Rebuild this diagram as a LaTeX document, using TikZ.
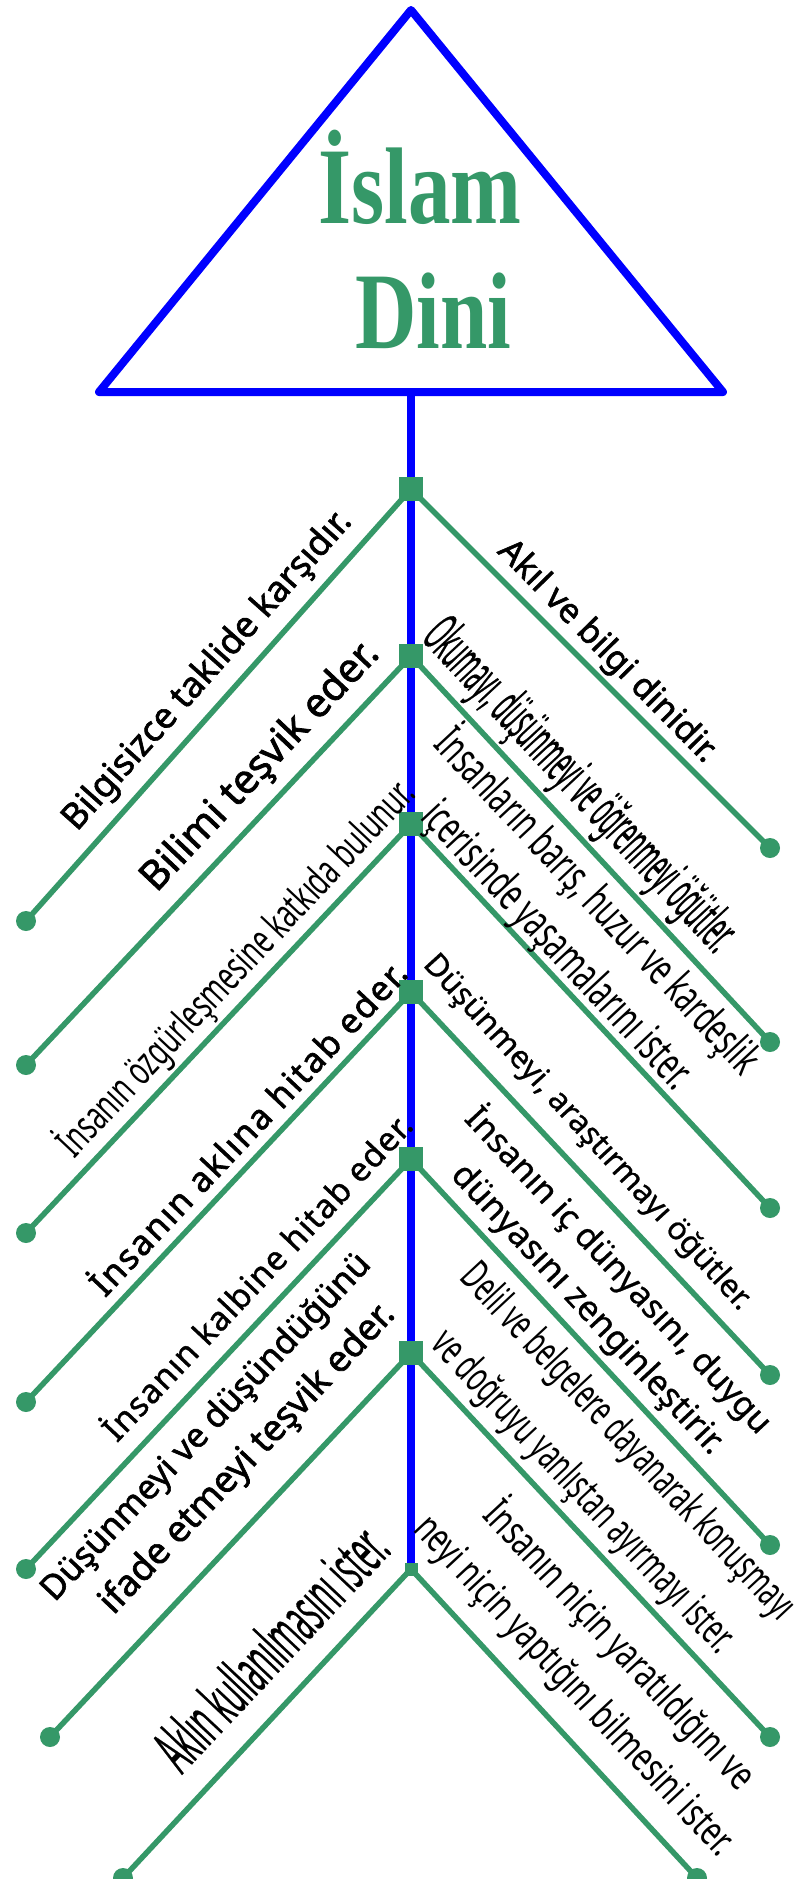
\documentclass[tikz,border=0pt]{standalone}
\usepackage{fontspec}
\usepackage{graphicx}
\setmainfont{Noto Sans}
\newfontfamily\titlefont[FakeStretch=0.78]{Liberation Serif}
\newfontfamily\fb[FakeBold=1.8]{Noto Sans}
\newfontfamily\fsemi[FakeBold=0.8]{Noto Sans}
\newfontfamily\fmed[FakeBold=1.2]{Noto Sans}
\newfontfamily\cA[FakeStretch=0.65]{Noto Sans}
\newfontfamily\cB[FakeStretch=0.42,FakeBold=0.25]{Noto Sans}
\newfontfamily\cC[FakeStretch=0.38,FakeBold=0.3]{Noto Sans}
\newfontfamily\cD[FakeStretch=0.62]{Noto Sans}
\newfontfamily\cE[FakeStretch=0.6]{Noto Sans}
\newfontfamily\cF[FakeStretch=0.7]{Noto Sans}
\definecolor{grn}{RGB}{53,152,104}
\definecolor{blu}{RGB}{0,0,255}
\newcommand\fitt[2]{\resizebox{#1pt}{!}{#2}}
\begin{document}
\begin{tikzpicture}[x=1pt,y=-1pt,
  gline/.style={draw=grn,line width=5.5pt},
  bline/.style={draw=blu,line width=7.5pt},
  sq/.style={fill=grn,minimum size=24pt,inner sep=0pt,outer sep=0pt},
  sqs/.style={fill=grn,minimum size=13pt,inner sep=0pt,outer sep=0pt},
  dot/.style={circle,fill=grn,minimum size=20pt,inner sep=0pt,outer sep=0pt},
  lab/.style={inner sep=0pt,outer sep=0pt,text=black},
  lft/.style={lab,rotate=46.7},
  rgt/.style={lab,rotate=-47},
  ttl/.style={anchor=base,text=grn,inner sep=0pt,font=\titlefont\bfseries\fontsize{109}{109}\selectfont},
  ]
\fill[white] (0,0) rectangle (794,1879);
\useasboundingbox (0,0) rectangle (794,1879);

% triangle
\coordinate (apex) at (411,10);
\coordinate (bl) at (99,392);
\coordinate (br) at (723,392);
\draw[draw=blu,line width=8pt,line join=round] (apex) -- (br) -- (bl) -- cycle;

% spine nodes
\node[sq] (n1) at (411,489) {};
\node[sq] (n2) at (411,656) {};
\node[sq] (n3) at (411,824) {};
\node[sq] (n4) at (411,992) {};
\node[sq] (n5) at (411,1159) {};
\node[sq] (n6) at (411,1353) {};
\node[sqs] (n7) at (411,1569) {};
\coordinate (top) at (411,392);

% end dots
\node[dot] (l1) at (26,921) {};
\node[dot] (l2) at (26,1065) {};
\node[dot] (l3) at (26,1233) {};
\node[dot] (l4) at (26,1402) {};
\node[dot] (l5) at (26,1569) {};
\node[dot] (l6) at (50,1737) {};
\node[dot] (l7) at (123,1878) {};
\node[dot] (r1) at (770,848) {};
\node[dot] (r2) at (770,1042) {};
\node[dot] (r3) at (770,1208) {};
\node[dot] (r4) at (770,1375) {};
\node[dot] (r5) at (770,1545) {};
\node[dot] (r6) at (770,1737) {};
\node[dot] (r7) at (697,1878) {};

% spine
\draw[bline] (top) -- (n1.center) -- (n2.center) -- (n3.center) -- (n4.center) -- (n5.center) -- (n6.center) -- (n7.center);

% branches
\foreach \i in {1,...,7} {
  \draw[gline] (n\i.center) -- (l\i.center);
  \draw[gline] (n\i.center) -- (r\i.center);
}
\foreach \i in {1,...,6} {\node[sq] at (n\i) {};}
\node[sqs] at (n7) {};

% title
\node[ttl] (islam) at (420,223) {İslam};
\node[ttl] (dini) at (433,348) {Dini};

% left labels
\node[lab,rotate=48.3] (tl1) at (208,671) {\fitt{415}{\fb Bilgisizce taklide karşıdır.}};
\node[lft] (tl2) at (261,767) {\fitt{327}{\fb Bilimi teşvik eder.}};
\node[lft] (tl3) at (236,968) {\fitt{500}{\cA İnsanın özgürleşmesine katkıda bulunur.}};
\node[lft] (tl4) at (246,1126) {\fitt{444}{\fb\addfontfeature{LetterSpace=5} İnsanın aklına hitab eder.}};
\node[lft] (tl5) at (255,1275) {\fitt{434}{\fmed\addfontfeature{LetterSpace=3} İnsanın kalbine hitab eder.}};
\node[lft] (tl6a) at (207,1428) {\fitt{463}{\fb Düşünmeyi ve düşündüğünü}};
\node[lft] (tl6b) at (248,1459) {\fitt{412}{\fb ifade etmeyi teşvik eder.}};
\node[lft] (tl7) at (270,1647) {\fitt{307}{\cB Aklın kullanılmasını ister.}};

% right labels
\node[lab,rotate=-45.5] (tr1) at (607,652) {\fitt{297}{\fb Akıl ve bilgi dinidir.}};
\node[rgt] (tr2) at (578,787) {\fitt{432}{\cC Okumayı, düşünmeyi ve öğrenmeyi öğütler.}};
\node[rgt] (tr3a) at (598,901) {\fitt{453}{\cD İnsanların barış, huzur ve kardeşlik}};
\node[rgt] (tr3b) at (556,947) {\fitt{374}{\cD içerisinde yaşamalarını ister.}};
\node[lab,rotate=-47.5] (tr4) at (587,1133) {\fitt{470}{\fsemi Düşünmeyi, araştırmayı öğütler.}};
\node[rgt] (tr5a) at (619,1270) {\fitt{432}{\fsemi İnsanın iç dünyasını, duygu}};
\node[rgt] (tr5b) at (587,1310) {\fitt{383}{\fsemi dünyasını zenginleştirir.}};
\node[rgt] (tr6a) at (627,1443) {\fitt{470}{\cE Delil ve belgelere dayanarak konuşmayı}};
\node[rgt] (tr6b) at (582,1493) {\fitt{423}{\cE ve doğruyu yanlıştan ayırmayı ister.}};
\node[rgt] (tr7a) at (620,1645) {\fitt{377}{\cF İnsanın niçin yaratıldığını ve}};
\node[rgt] (tr7b) at (573,1687) {\fitt{449}{\cF neyi niçin yaptığını bilmesini ister.}};
\end{tikzpicture}
\end{document}
